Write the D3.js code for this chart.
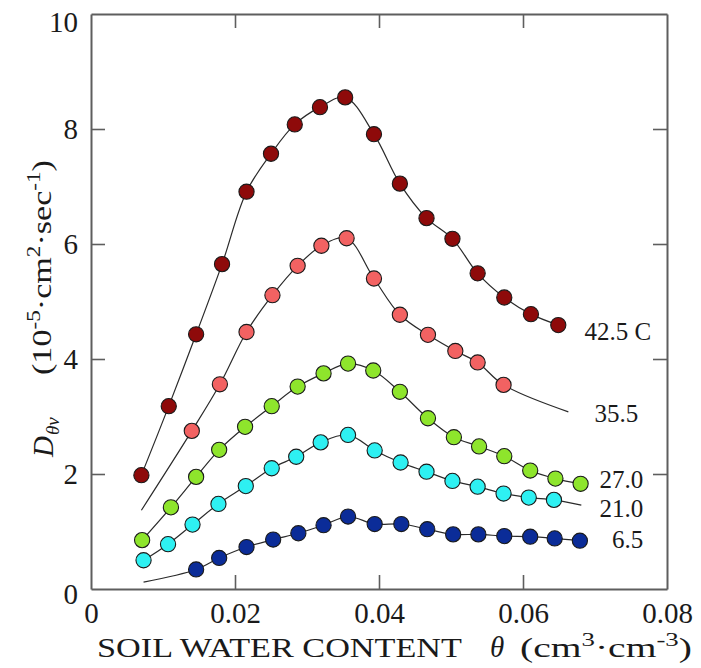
<!DOCTYPE html>
<html>
<head>
<meta charset="utf-8">
<script src="https://cdn.jsdelivr.net/npm/d3@7"></script>
<style>
  html, body { margin: 0; padding: 0; background: #fff; }
  svg { display: block; font-family: "Liberation Serif", "Times New Roman", serif; }
</style>
</head>
<body>
<svg id="chart" width="701" height="668"></svg>
<script>
// ---------- DATA ----------
const seriesNames = ["42.5 C", "35.5", "27.0", "21.0", "6.5"];
const seriesColors = ["#8e0a0a", "#f26262", "#8ee52c", "#2ef0f2", "#0b2c98"];

const theta425 = [0.0070,0.0108,0.0146,0.0182,0.0216,0.0250,0.0283,0.0318,0.0353,0.0393,0.0429,0.0466,0.0502,0.0537,0.0574,0.0611,0.0649];
const d425     = [1.98,3.18,4.43,5.65,6.91,7.57,8.08,8.38,8.55,7.91,7.05,6.45,6.09,5.49,5.07,4.78,4.59];

const theta355 = [0.0140,0.0179,0.0216,0.0252,0.0287,0.0320,0.0355,0.0393,0.0429,0.0468,0.0506,0.0537,0.0573];
const d355     = [2.75,3.56,4.47,5.11,5.62,5.97,6.10,5.40,4.77,4.42,4.14,3.94,3.55];

const theta270 = [0.0071,0.0111,0.0146,0.0178,0.0214,0.0251,0.0287,0.0323,0.0357,0.0392,0.0429,0.0468,0.0504,0.0539,0.0574,0.0610,0.0645,0.0680];
const d270     = [0.85,1.42,1.95,2.42,2.82,3.18,3.52,3.75,3.92,3.80,3.43,2.97,2.64,2.48,2.31,2.06,1.92,1.83];

const theta210 = [0.0073,0.0107,0.0141,0.0177,0.0215,0.0251,0.0285,0.0319,0.0357,0.0394,0.0430,0.0466,0.0502,0.0537,0.0573,0.0608,0.0643];
const d210     = [0.50,0.78,1.12,1.48,1.79,2.10,2.30,2.55,2.68,2.41,2.20,2.04,1.88,1.78,1.66,1.59,1.55];

const theta65  = [0.0146,0.0178,0.0216,0.0253,0.0288,0.0323,0.0357,0.0394,0.0431,0.0467,0.0503,0.0538,0.0574,0.0610,0.0644,0.0679];
const d65      = [0.34,0.54,0.73,0.86,0.97,1.11,1.26,1.13,1.13,1.04,0.95,0.95,0.92,0.91,0.88,0.84];

// fitted-curve extensions beyond measured points (start / end of drawn curve)
const curveStart = [null, [0.0070, 1.37], null, null, [0.0073, 0.12]];
const curveEnd   = [null, [0.0663, 3.08], null, [0.0681, 1.46], null];

// label anchor (end) in data units
const labelTheta = [0.0778, 0.0760, 0.0767, 0.0767, 0.0767];
const labelD     = [4.33, 2.90, 1.76, 1.25, 0.71];

const xTicks = [0, 0.02, 0.04, 0.06, 0.08];
const yTicks = [0, 2, 4, 6, 8, 10];
const xInnerTicks = [0.02, 0.04, 0.06];
const yInnerTicks = [2, 4, 6, 8];

// ---------- LAYOUT ----------
const svg = d3.select("#chart");
const m = { left: 91, top: 14, right: 34, bottom: 79 };
const W = 701 - m.left - m.right;   // 576
const H = 668 - m.top - m.bottom;   // 575

const x = d3.scaleLinear().domain([0, 0.08]).range([m.left, m.left + W]);
const y = d3.scaleLinear().domain([0, 10]).range([m.top + H, m.top]);

const frameColor = "#5e5e5e";
const textColor = "#1a1a1a";

// ---------- AXES ----------
const fmtX = d => d === 0 ? "0" : d3.format(".2f")(d);
const gB = svg.append("g").attr("transform", `translate(0,${m.top + H})`)
  .call(d3.axisBottom(x).tickValues(xTicks).tickFormat(fmtX).tickSizeInner(-14).tickSizeOuter(0).tickPadding(13));
const gL = svg.append("g").attr("transform", `translate(${m.left},0)`)
  .call(d3.axisLeft(y).tickValues(yTicks).tickFormat(d3.format("d")).tickSizeInner(-14).tickSizeOuter(0).tickPadding(13));
const gT = svg.append("g").attr("transform", `translate(0,${m.top})`)
  .call(d3.axisTop(x).tickValues(xInnerTicks).tickFormat("").tickSizeInner(-14).tickSizeOuter(0));
const gR = svg.append("g").attr("transform", `translate(${m.left + W},0)`)
  .call(d3.axisRight(y).tickValues(yInnerTicks).tickFormat("").tickSizeInner(-14).tickSizeOuter(0));

[gB, gL, gT, gR].forEach(g => {
  g.select(".domain").attr("stroke", frameColor).attr("stroke-width", 2);
  g.selectAll(".tick line").attr("stroke", frameColor).attr("stroke-width", 1.6);
  g.selectAll(".tick text").attr("font-family", "Liberation Serif").attr("font-size", 29).attr("fill", textColor);
});
// hide tick marks that coincide with the frame corners
gB.selectAll(".tick line").filter(d => d === 0 || d === 0.08).remove();
gL.selectAll(".tick line").filter(d => d === 0 || d === 10).remove();
gL.selectAll(".tick text").filter(d => d === 10).attr("dy", "0.62em");
gL.selectAll(".tick text").filter(d => d === 0).attr("dy", "0.5em");

// ---------- CURVES & MARKERS ----------
const thetas = [theta425, theta355, theta270, theta210, theta65];
const ds = [d425, d355, d270, d210, d65];

const line = d3.line().x(p => x(p[0])).y(p => y(p[1])).curve(d3.curveCatmullRom.alpha(0.5));

thetas.forEach((tArr, i) => {
  let pts = tArr.map((t, j) => [t, ds[i][j]]);
  if (curveStart[i]) pts = [curveStart[i]].concat(pts);
  if (curveEnd[i]) pts = pts.concat([curveEnd[i]]);
  svg.append("path").attr("d", line(pts)).attr("fill", "none")
    .attr("stroke", "#2a2a2a").attr("stroke-width", 1.2);
});

thetas.forEach((tArr, i) => {
  svg.append("g").selectAll("circle").data(tArr.map((t, j) => [t, ds[i][j]])).join("circle")
    .attr("cx", p => x(p[0])).attr("cy", p => y(p[1])).attr("r", 7.6)
    .attr("fill", seriesColors[i]).attr("stroke", "#1a1a1a").attr("stroke-width", 1.1);
});

// ---------- SERIES LABELS ----------
seriesNames.forEach((name, i) => {
  svg.append("text").attr("x", x(labelTheta[i])).attr("y", y(labelD[i]))
    .attr("text-anchor", "end").attr("font-size", 25).attr("fill", textColor).text(name);
});

// ---------- AXIS TITLES ----------
// x title
const xt1 = svg.append("text").attr("x", m.left + 6).attr("y", 657)
  .attr("font-size", 28).attr("fill", textColor)
  .attr("textLength", 365).attr("lengthAdjust", "spacingAndGlyphs")
  .text("SOIL WATER CONTENT");
svg.append("text").attr("x", 490).attr("y", 657)
  .attr("font-size", 29).attr("font-style", "italic").attr("fill", textColor).text("θ");
const xu = svg.append("text").attr("x", 520).attr("y", 657)
  .attr("font-size", 28).attr("fill", textColor)
  .attr("textLength", 172).attr("lengthAdjust", "spacingAndGlyphs");
xu.append("tspan").text("(cm");
xu.append("tspan").attr("font-size", 19).attr("dy", -11).text("3");
xu.append("tspan").attr("dy", 11).text("·cm");
xu.append("tspan").attr("font-size", 19).attr("dy", -11).text("-3");
xu.append("tspan").attr("dy", 11).text(")");

// y title (rotated)
const yt = svg.append("text").attr("transform", "translate(53,457) rotate(-90)")
  .attr("font-size", 29).attr("fill", textColor);
yt.append("tspan").attr("font-style", "italic").text("D");
yt.append("tspan").attr("font-style", "italic").attr("font-size", 19).attr("dy", 6).attr("dx", 1).text("θv");

const yu = svg.append("text").attr("transform", "translate(51,375) rotate(-90)")
  .attr("font-size", 28).attr("fill", textColor)
  .attr("textLength", 215).attr("lengthAdjust", "spacingAndGlyphs");
yu.append("tspan").text("(10");
yu.append("tspan").attr("font-size", 19).attr("dy", -11).text("-5");
yu.append("tspan").attr("dy", 11).text("·cm");
yu.append("tspan").attr("font-size", 19).attr("dy", -11).text("2");
yu.append("tspan").attr("dy", 11).text("·sec");
yu.append("tspan").attr("font-size", 19).attr("dy", -11).text("-1");
yu.append("tspan").attr("dy", 11).text(")");
</script>
</body>
</html>
